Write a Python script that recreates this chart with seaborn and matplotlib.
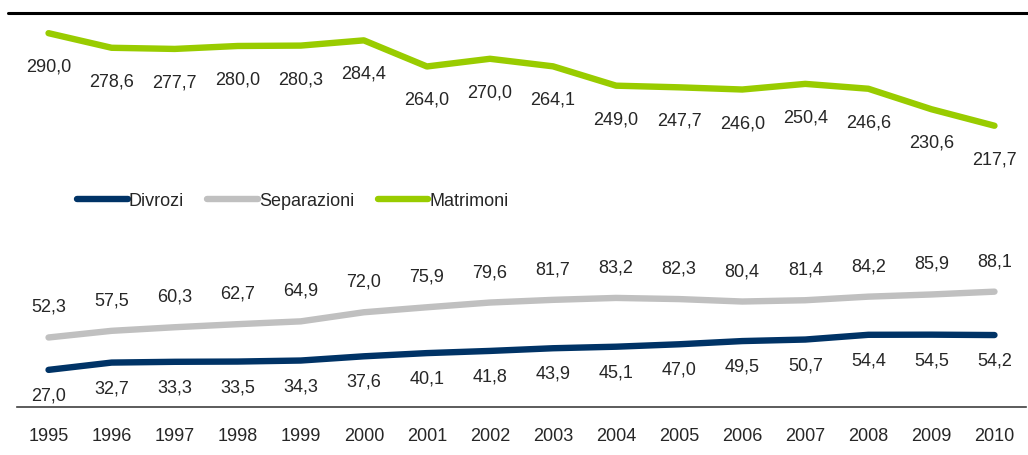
import matplotlib
matplotlib.use("Agg")
import matplotlib.pyplot as plt
import seaborn as sns
import pandas as pd
from matplotlib.lines import Line2D

years = ["1995", "1996", "1997", "1998", "1999", "2000", "2001", "2002",
         "2003", "2004", "2005", "2006", "2007", "2008", "2009", "2010"]
divorzi = [27.0, 32.7, 33.3, 33.5, 34.3, 37.6, 40.1, 41.8, 43.9, 45.1, 47.0, 49.5, 50.7, 54.4, 54.5, 54.2]
separazioni = [52.3, 57.5, 60.3, 62.7, 64.9, 72.0, 75.9, 79.6, 81.7, 83.2, 82.3, 80.4, 81.4, 84.2, 85.9, 88.1]
matrimoni = [290.0, 278.6, 277.7, 280.0, 280.3, 284.4, 264.0, 270.0, 264.1, 249.0, 247.7, 246.0, 250.4, 246.6, 230.6, 217.7]
series_names = ["Divrozi", "Separazioni", "Matrimoni"]

colors = {"Divrozi": "#003366", "Separazioni": "#C0C0C0", "Matrimoni": "#99CC00"}
label_offsets = {"Divrozi": -26, "Separazioni": 30, "Matrimoni": -34}

sns.set_theme(style="white")
plt.rcParams["font.family"] = ["Liberation Sans", "DejaVu Sans"]

df = pd.DataFrame({
    "year": years * 3,
    "x": list(range(len(years))) * 3,
    "value": divorzi + separazioni + matrimoni,
    "serie": [series_names[0]] * 16 + [series_names[1]] * 16 + [series_names[2]] * 16,
})

fig = plt.figure(figsize=(10.28, 4.55), dpi=100)
ax = fig.add_axes([17 / 1028, 48 / 455, 1009 / 1028, (407 - 12.7) / 455])

sns.lineplot(data=df, x="x", y="value", hue="serie", palette=colors,
             linewidth=4.6, ax=ax, legend=False, solid_capstyle="round",
             solid_joinstyle="round", sort=False)

FS = 13
for name, vals in zip(series_names, [divorzi, separazioni, matrimoni]):
    for i, v in enumerate(vals):
        ax.annotate(f"{v:.1f}".replace(".", ","), (i, v),
                    xytext=(0, label_offsets[name]), textcoords="offset pixels",
                    ha="center", va="center", fontsize=FS, color="#262626")

ax.set_xlim(-0.5, len(years) - 0.5)
ax.set_ylim(-2, 306)
ax.set_xticks(range(len(years)))
ax.set_xticklabels(years, fontsize=FS, color="#262626")
ax.set_yticks([])
ax.set_xlabel("")
ax.set_ylabel("")
ax.tick_params(axis="x", length=0, pad=15)
for s in ["left", "right", "top"]:
    ax.spines[s].set_visible(False)
ax.spines["bottom"].set_color("#404040")
ax.spines["bottom"].set_linewidth(1.2)

# top rule
fig.add_artist(Line2D([8 / 1028, 1.0], [1 - 12.7 / 455, 1 - 12.7 / 455],
                      color="black", linewidth=2.2, transform=fig.transFigure))

handles = [Line2D([0], [0], color=colors[n], linewidth=4.6, solid_capstyle="round")
           for n in series_names]
leg = ax.legend(handles, series_names, loc="center left",
                bbox_to_anchor=(53 / 1009, 1 - (201 - 12.7) / 394.3),
                ncol=3, frameon=False, fontsize=FS, handlelength=2.8,
                handletextpad=0.05, columnspacing=1.3, borderaxespad=0)

fig.savefig("out.png", dpi=100)
